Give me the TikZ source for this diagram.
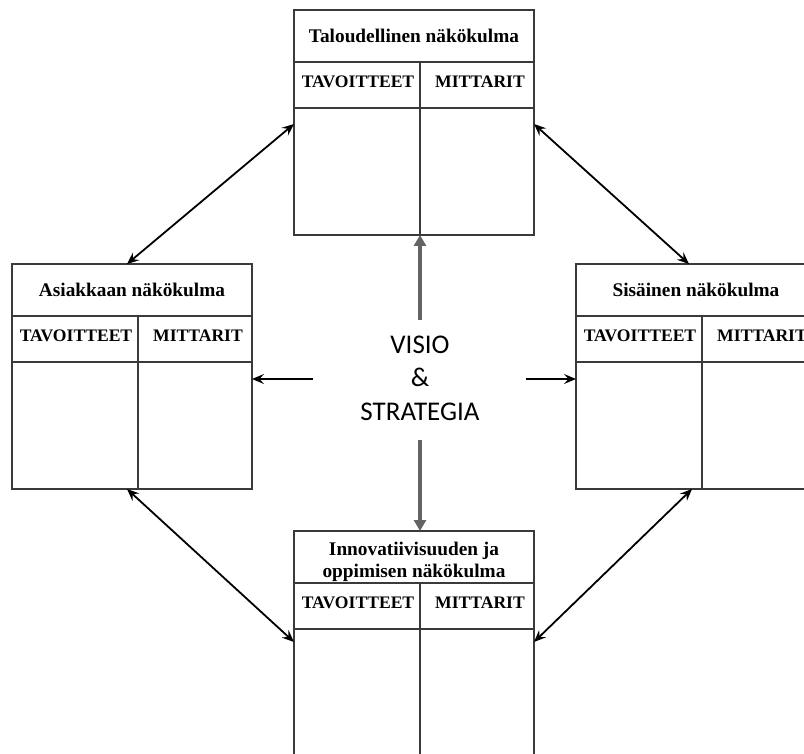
\documentclass[tikz,border=0pt]{standalone}
\usepackage{fontspec}
\setmainfont{Liberation Serif}
\newfontfamily\calibri{Carlito}
\usetikzlibrary{arrows.meta,calc}

\definecolor{boxline}{HTML}{3A3A3A}
\definecolor{centerarrow}{HTML}{646464}

\tikzset{
  pbox/.style={draw=boxline, line width=1.6pt, minimum width=240pt,
    minimum height=225pt, inner sep=0pt, outer sep=0pt, anchor=north west},
  pline/.style={draw=boxline, line width=1.6pt},
  ptitle/.style={font=\fontsize{19.3}{22.5}\selectfont\bfseries, align=center, inner sep=0pt},
  pcol/.style={font=\fontsize{17.6}{20}\selectfont\bfseries, inner sep=0pt},
  link/.style={line width=1.8pt,
    {Stealth[length=12pt,width=10pt,inset=4.5pt]}-{Stealth[length=12pt,width=10pt,inset=4.5pt]}},
  feed/.style={line width=1.8pt, -{Stealth[length=12pt,width=10pt,inset=4.5pt]}},
  core/.style={line width=3.2pt, draw=centerarrow, -{Triangle[length=11pt,width=12pt]}},
}

% one perspective table: name, left x, top y, title, title offset from top
\newcommand\perspective[5]{%
  \node[pbox] (#1) at (#2,#3) {};
  \draw[pline] ($(#1.north west)+(0,52)$) -- ($(#1.north east)+(0,52)$);
  \draw[pline] ($(#1.north west)+(0,98)$) -- ($(#1.north east)+(0,98)$);
  \draw[pline] ($(#1.north west)+(126,52)$) -- ($(#1.south west)+(126,0)$);
  \node[ptitle] (#1-title) at ($(#1.north)+(0,#5)$) {#4};
  \node[pcol] (#1-tav) at ($(#1.north west)+(64,72)$) {TAVOITTEET};
  \node[pcol] (#1-mit) at ($(#1.north west)+(186,72)$) {MITTARIT};
}

\begin{document}
\begin{tikzpicture}[x=1pt,y=-1pt]
  \useasboundingbox (0,0) rectangle (804,754);
  \clip (0,0) rectangle (804,754);

  \perspective{fin}{294}{10}{Taloudellinen näkökulma}{26}
  \perspective{cust}{12}{264}{Asiakkaan näkökulma}{26}
  \perspective{int}{576}{264}{Sisäinen näkökulma}{26}
  \perspective{learn}{294}{531}{Innovatiivisuuden ja\\oppimisen näkökulma}{31}

  \node[font=\calibri\fontsize{27}{33.5}\selectfont, align=center, text=black,
    inner sep=0pt] (vision) at (420,378) {VISIO\\\&\\STRATEGIA};

  \coordinate (vis-up) at (420,320);
  \coordinate (vis-down) at (420,440);
  \coordinate (vis-left) at (313,379);
  \coordinate (vis-right) at (526,379);

  \draw[core] (vis-up) -- ($(fin.south west)+(126,0)$);
  \draw[core] (vis-down) -- ($(learn.north west)+(126,0)$);
  \draw[feed] (vis-left) -- (vis-left -| cust.east);
  \draw[feed] (vis-right) -- (vis-right -| int.west);

  \draw[link] ($(fin.north west)+(0,114)$) -- ($(cust.north west)+(115,0)$);
  \draw[link] ($(fin.north east)+(0,114)$) -- ($(int.north west)+(113,0)$);
  \draw[link] ($(cust.south west)+(115,0)$) -- ($(learn.north west)+(0,111)$);
  \draw[link] ($(int.south west)+(116,0)$) -- ($(learn.north east)+(0,111)$);
\end{tikzpicture}
\end{document}
